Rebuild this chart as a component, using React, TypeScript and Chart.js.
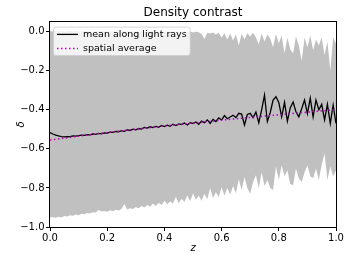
import React, { useEffect, useRef } from "react";
import { Chart, registerables } from "chart.js";

Chart.register(...registerables);

const TITLE = "Density contrast";
const X_LABEL = "z";
const Y_LABEL = "δ";
const MEAN_LABEL = "mean along light rays";
const SPATIAL_LABEL = "spatial average";

const X_TICKS = [0, 0.2, 0.4, 0.6, 0.8, 1.0];
const Y_TICKS = [-1.0, -0.8, -0.6, -0.4, -0.2, 0.0];

const Z = [
  0.0, 0.01, 0.02, 0.03, 0.04, 0.05, 0.06, 0.07, 0.08, 0.09,
  0.1, 0.11, 0.12, 0.13, 0.14, 0.15, 0.16, 0.17, 0.18, 0.19,
  0.2, 0.21, 0.22, 0.23, 0.24, 0.25, 0.26, 0.27, 0.28, 0.29,
  0.3, 0.31, 0.32, 0.33, 0.34, 0.35, 0.36, 0.37, 0.38, 0.39,
  0.4, 0.41, 0.42, 0.43, 0.44, 0.45, 0.46, 0.47, 0.48, 0.49,
  0.5, 0.51, 0.52, 0.53, 0.54, 0.55, 0.56, 0.57, 0.58, 0.59,
  0.6, 0.61, 0.62, 0.63, 0.64, 0.65, 0.66, 0.67, 0.68, 0.69,
  0.7, 0.71, 0.72, 0.73, 0.74, 0.75, 0.76, 0.77, 0.78, 0.79,
  0.8, 0.81, 0.82, 0.83, 0.84, 0.85, 0.86, 0.87, 0.88, 0.89,
  0.9, 0.91, 0.92, 0.93, 0.94, 0.95, 0.96, 0.97, 0.98, 0.99,
  1.0,
];

const MEAN = [
  -0.516, -0.524, -0.53, -0.534, -0.537, -0.539, -0.538, -0.537, -0.534, -0.535,
  -0.532, -0.53, -0.531, -0.527, -0.528, -0.524, -0.526, -0.521, -0.523, -0.518,
  -0.519, -0.514, -0.516, -0.511, -0.513, -0.507, -0.51, -0.503, -0.506, -0.499,
  -0.503, -0.496, -0.499, -0.49, -0.494, -0.487, -0.491, -0.485, -0.489, -0.48,
  -0.486, -0.479, -0.484, -0.474, -0.481, -0.472, -0.476, -0.468, -0.478, -0.466,
  -0.47, -0.462, -0.474, -0.458, -0.466, -0.452, -0.47, -0.449, -0.46, -0.441,
  -0.452, -0.43, -0.446, -0.437, -0.428, -0.44, -0.418, -0.422, -0.478, -0.424,
  -0.418, -0.44, -0.412, -0.466, -0.4, -0.325, -0.46, -0.415, -0.35, -0.333,
  -0.362, -0.436, -0.362, -0.458, -0.39, -0.36, -0.41, -0.436, -0.395, -0.35,
  -0.42, -0.34, -0.436, -0.35, -0.4, -0.372, -0.452, -0.372, -0.47, -0.376,
  -0.47,
];

const SPATIAL_Z = [0.0, 0.1, 0.2, 0.3, 0.4, 0.5, 0.6, 0.7, 0.8, 0.9, 1.0];
const SPATIAL = [-0.555, -0.535, -0.516, -0.499, -0.483, -0.468, -0.453, -0.439, -0.425, -0.412, -0.399];

const UPPER = [
  0.003, 0.001, 0.004, 0.0, 0.003, -0.002, 0.002, 0.004, 0.0, 0.003,
  -0.001, 0.002, 0.004, 0.0, 0.002, -0.003, 0.003, 0.001, 0.004, -0.002,
  0.002, 0.0, 0.003, -0.002, 0.002, 0.004, -0.001, 0.002, 0.0, 0.003,
  -0.002, 0.002, 0.001, -0.003, 0.002, 0.0, 0.003, -0.002, 0.001, 0.002,
  -0.003, 0.001, 0.0, 0.002, -0.004, 0.001, -0.002, 0.002, -0.002, 0.001,
  -0.004, 0.0, -0.003, -0.012, -0.038, -0.006, -0.01, -0.004, -0.014, -0.006,
  -0.03, -0.008, -0.04, -0.01, -0.045, -0.015, -0.07, -0.012, -0.04, -0.008,
  -0.025, -0.005, -0.03, -0.065, -0.01, -0.05, -0.015, -0.035, -0.08, -0.012,
  -0.06, -0.02, -0.11, -0.03, -0.09, -0.11, -0.025, -0.07, -0.15, -0.03,
  -0.08, -0.02, -0.095, -0.04, -0.07, -0.03, -0.12, -0.05, -0.2, -0.03,
  -0.06,
];

const LOWER = [
  -0.952, -0.95, -0.953, -0.948, -0.951, -0.944, -0.946, -0.94, -0.943, -0.936,
  -0.94, -0.932, -0.935, -0.928, -0.931, -0.924, -0.926, -0.912, -0.921, -0.918,
  -0.922, -0.914, -0.919, -0.912, -0.916, -0.908, -0.882, -0.91, -0.904, -0.908,
  -0.898, -0.904, -0.892, -0.9, -0.888, -0.896, -0.88, -0.892, -0.876, -0.888,
  -0.866, -0.884, -0.87, -0.88, -0.845, -0.878, -0.855, -0.872, -0.838, -0.868,
  -0.828, -0.86, -0.84, -0.866, -0.83, -0.858, -0.8, -0.852, -0.822, -0.846,
  -0.795, -0.84, -0.8, -0.835, -0.79, -0.828, -0.755, -0.81, -0.745, -0.8,
  -0.83, -0.77, -0.735, -0.8, -0.72, -0.79, -0.76, -0.8, -0.81, -0.69,
  -0.76, -0.685, -0.74, -0.71, -0.78, -0.786, -0.7, -0.75, -0.77, -0.72,
  -0.685, -0.74, -0.75, -0.7, -0.76, -0.68, -0.624, -0.76, -0.69, -0.74,
  -0.71,
];

const FONT = '"DejaVu Sans", sans-serif';

const fmt = (v: number) => {
  const s = (Math.abs(v) < 1e-9 ? 0 : v).toFixed(1);
  return s.replace("-", "\u2212");
};

const framePlugin = {
  id: "frame",
  afterDatasetsDraw(chart: any) {
    const { ctx, chartArea } = chart;
    ctx.save();
    ctx.strokeStyle = "#000";
    ctx.lineWidth = 1;
    const l = Math.round(chartArea.left) - 0.5;
    const t = Math.round(chartArea.top) - 0.5;
    const r = Math.round(chartArea.right) + 0.5;
    const b = Math.round(chartArea.bottom) + 0.5;
    ctx.strokeRect(l, t, r - l, b - t);
    ctx.restore();
  },
};

const legendPlugin = {
  id: "boxLegend",
  afterDraw(chart: any) {
    const { ctx, chartArea } = chart;
    const items = chart.data.datasets
      .filter((d: any) => d.label)
      .sort((a: any, b: any) => b.order - a.order);
    ctx.save();
    ctx.font = `9.5px ${FONT}`;
    const bx = chartArea.left + 3.5;
    const by = chartArea.top + 5.2;
    const sampleX = bx + 3.5;
    const sampleLen = 21;
    const textX = sampleX + sampleLen + 5;
    const rowH = 14;
    let maxW = 0;
    items.forEach((it: any) => {
      maxW = Math.max(maxW, ctx.measureText(it.label).width);
    });
    const bw = textX + maxW + 3.5 - bx;
    const bh = rowH * items.length + 0.5;
    ctx.beginPath();
    (ctx as any).roundRect(bx, by, bw, bh, 2.5);
    ctx.fillStyle = "rgba(255,255,255,0.8)";
    ctx.fill();
    ctx.strokeStyle = "rgba(204,204,204,0.8)";
    ctx.lineWidth = 1;
    ctx.stroke();
    items.forEach((it: any, i: number) => {
      const cy = by + 7.3 + i * rowH;
      ctx.beginPath();
      ctx.setLineDash(it.borderDash || []);
      ctx.strokeStyle = it.borderColor;
      ctx.lineWidth = it.borderWidth;
      ctx.moveTo(sampleX, cy);
      ctx.lineTo(sampleX + sampleLen, cy);
      ctx.stroke();
      ctx.setLineDash([]);
      ctx.fillStyle = "#000";
      ctx.textBaseline = "middle";
      ctx.textAlign = "left";
      ctx.fillText(it.label, textX, cy);
    });
    ctx.restore();
  },
};

export default function App() {
  const ref = useRef<HTMLCanvasElement | null>(null);

  useEffect(() => {
    document.body.style.margin = "0";
    const canvas = ref.current;
    if (!canvas) return;
    const pts = (xs: number[], ys: number[]) => xs.map((x, i) => ({ x, y: ys[i] }));

    const chart = new Chart(canvas, {
      type: "line",
      data: {
        datasets: [
          {
            label: SPATIAL_LABEL,
            data: pts(SPATIAL_Z, SPATIAL),
            borderColor: "#bf00bf",
            borderWidth: 1.5,
            borderDash: [1.5, 2.5],
            pointRadius: 0,
            fill: false,
            order: 0,
            tension: 0,
          },
          {
            label: MEAN_LABEL,
            data: pts(Z, MEAN),
            borderColor: "#000000",
            borderWidth: 1.3,
            pointRadius: 0,
            fill: false,
            order: 1,
            tension: 0,
          },
          {
            data: pts(Z, UPPER),
            borderWidth: 0,
            borderColor: "rgba(0,0,0,0)",
            pointRadius: 0,
            fill: false,
            order: 2,
            tension: 0,
          },
          {
            data: pts(Z, LOWER),
            borderWidth: 0,
            borderColor: "rgba(0,0,0,0)",
            backgroundColor: "#c0c0c0",
            pointRadius: 0,
            fill: "-1",
            order: 3,
            tension: 0,
          },
        ] as any,
      },
      options: {
        animation: false,
        responsive: false,
        events: [],
        layout: { padding: { top: 0, right: 16, bottom: 0, left: 0 } },
        plugins: {
          legend: { display: false },
          tooltip: { enabled: false },
          title: {
            display: true,
            text: TITLE,
            fullSize: false,
            color: "#000",
            font: { family: FONT, size: 12, weight: "normal" },
            padding: { top: 5.5, bottom: 2 },
          } as any,
        },
        scales: {
          x: {
            type: "linear",
            min: 0,
            max: 1,
            afterBuildTicks: (s: any) => {
              s.ticks = X_TICKS.map((v) => ({ value: v }));
            },
            afterFit: (s: any) => {
              s.height = 37;
            },
            ticks: {
              color: "#000",
              font: { family: FONT, size: 10 },
              padding: 1,
              maxRotation: 0,
              autoSkip: false,
              callback: (v: any) => fmt(Number(v)),
            },
            grid: {
              display: true,
              drawOnChartArea: false,
              drawTicks: true,
              tickLength: 4,
              tickColor: "#000",
              tickWidth: 1,
            },
            border: { display: false },
            title: {
              display: true,
              text: X_LABEL,
              color: "#000",
              font: { family: FONT, size: 10, style: "italic" },
              padding: { top: 0, bottom: 10 },
            },
          },
          y: {
            type: "linear",
            min: -1.0,
            max: 0.05,
            afterBuildTicks: (s: any) => {
              s.ticks = Y_TICKS.map((v) => ({ value: v }));
            },
            afterFit: (s: any) => {
              s.width = 50;
            },
            ticks: {
              color: "#000",
              font: { family: FONT, size: 10 },
              padding: 1.5,
              autoSkip: false,
              callback: (v: any) => fmt(Number(v)),
            },
            grid: {
              display: true,
              drawOnChartArea: false,
              drawTicks: true,
              tickLength: 4,
              tickColor: "#000",
              tickWidth: 1,
            },
            border: { display: false },
            title: {
              display: true,
              text: Y_LABEL,
              color: "#000",
              font: { family: FONT, size: 10, style: "italic" },
              padding: { top: 15, bottom: 0 },
            },
          },
        },
      },
      plugins: [framePlugin, legendPlugin],
    });
    return () => chart.destroy();
  }, []);

  return (
    <div style={{ width: 352, height: 264 }}>
      <canvas ref={ref} width={352} height={264} style={{ display: "block" }} />
    </div>
  );
}
